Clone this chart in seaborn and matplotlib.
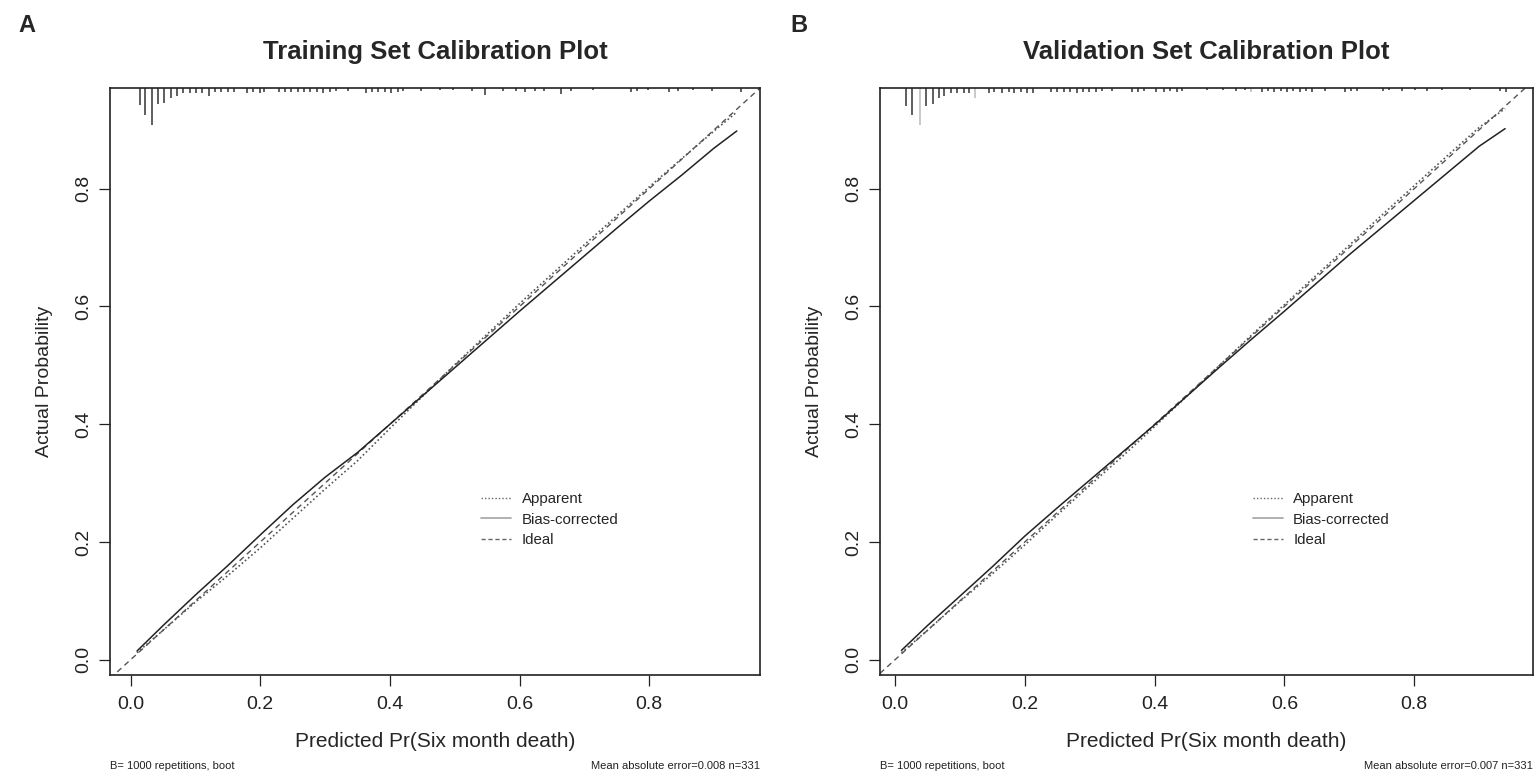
import numpy as np
import pandas as pd
import matplotlib
matplotlib.use("Agg")
import matplotlib.pyplot as plt
import seaborn as sns
from matplotlib.lines import Line2D

# ── Data ──────────────────────────────────────────────────
pred_a = [0.01, 0.05, 0.10, 0.15, 0.20, 0.25, 0.30, 0.35, 0.40, 0.45,
          0.50, 0.55, 0.60, 0.65, 0.70, 0.75, 0.80, 0.85, 0.90, 0.935]
apparent_a = [0.012, 0.050, 0.098, 0.143, 0.190, 0.240, 0.290, 0.338, 0.393, 0.447,
              0.501, 0.553, 0.605, 0.655, 0.705, 0.754, 0.803, 0.851, 0.898, 0.930]
bias_a = [0.015, 0.058, 0.110, 0.160, 0.212, 0.263, 0.310, 0.352, 0.400, 0.448,
          0.496, 0.544, 0.592, 0.639, 0.686, 0.733, 0.779, 0.823, 0.869, 0.898]

pred_b = [0.01, 0.05, 0.10, 0.15, 0.20, 0.25, 0.30, 0.35, 0.40, 0.45,
          0.50, 0.55, 0.60, 0.65, 0.70, 0.75, 0.80, 0.85, 0.90, 0.94]
apparent_b = [0.012, 0.050, 0.099, 0.146, 0.195, 0.246, 0.296, 0.345, 0.396, 0.448,
              0.500, 0.552, 0.603, 0.654, 0.704, 0.755, 0.805, 0.855, 0.904, 0.936]
bias_b = [0.016, 0.058, 0.108, 0.158, 0.210, 0.258, 0.305, 0.352, 0.399, 0.448,
          0.497, 0.545, 0.592, 0.640, 0.688, 0.734, 0.780, 0.826, 0.872, 0.902]

# rug of predicted probabilities (position, tick length in prob. units)
rug_x_a = [0.014, 0.023, 0.033, 0.043, 0.052, 0.063, 0.071, 0.081, 0.091, 0.101,
           0.110, 0.121, 0.130, 0.140, 0.150, 0.160, 0.179, 0.189, 0.199, 0.206,
           0.229, 0.238, 0.248, 0.258, 0.268, 0.277, 0.287, 0.297, 0.307, 0.317,
           0.336, 0.363, 0.372, 0.382, 0.392, 0.402, 0.412, 0.420, 0.448, 0.477,
           0.497, 0.526, 0.546, 0.575, 0.595, 0.608, 0.624, 0.637, 0.664, 0.680,
           0.713, 0.772, 0.781, 0.798, 0.831, 0.844, 0.867, 0.896, 0.942]
rug_h_a = [0.029, 0.046, 0.063, 0.027, 0.026, 0.017, 0.014, 0.009, 0.008, 0.008,
           0.008, 0.014, 0.006, 0.007, 0.006, 0.006, 0.008, 0.007, 0.008, 0.006,
           0.007, 0.006, 0.007, 0.006, 0.007, 0.007, 0.006, 0.008, 0.007, 0.005,
           0.005, 0.008, 0.006, 0.007, 0.006, 0.008, 0.006, 0.005, 0.005, 0.004,
           0.004, 0.005, 0.012, 0.005, 0.005, 0.006, 0.005, 0.005, 0.011, 0.005,
           0.004, 0.006, 0.005, 0.004, 0.006, 0.005, 0.004, 0.005, 0.006]

rug_x_b = [0.017, 0.027, 0.038, 0.048, 0.058, 0.068, 0.076, 0.086, 0.096, 0.106,
           0.114, 0.123, 0.145, 0.153, 0.165, 0.175, 0.184, 0.194, 0.204, 0.212,
           0.240, 0.250, 0.260, 0.270, 0.280, 0.289, 0.299, 0.309, 0.319, 0.335,
           0.365, 0.375, 0.384, 0.402, 0.414, 0.424, 0.434, 0.443, 0.480, 0.506,
           0.525, 0.539, 0.548, 0.565, 0.575, 0.584, 0.594, 0.604, 0.614, 0.624,
           0.634, 0.643, 0.663, 0.693, 0.702, 0.712, 0.752, 0.761, 0.781, 0.801,
           0.820, 0.843, 0.886, 0.932, 0.942]
rug_h_b = [0.030, 0.046, 0.063, 0.030, 0.027, 0.017, 0.013, 0.009, 0.008, 0.009,
           0.008, 0.017, 0.008, 0.006, 0.008, 0.007, 0.008, 0.007, 0.008, 0.008,
           0.007, 0.006, 0.007, 0.006, 0.008, 0.007, 0.007, 0.006, 0.005, 0.005,
           0.006, 0.007, 0.005, 0.006, 0.006, 0.005, 0.006, 0.005, 0.004, 0.004,
           0.005, 0.004, 0.006, 0.006, 0.005, 0.006, 0.005, 0.006, 0.005, 0.006,
           0.005, 0.006, 0.005, 0.006, 0.005, 0.005, 0.005, 0.004, 0.005, 0.004,
           0.005, 0.004, 0.004, 0.005, 0.006]
rug_grey_b = [0.038, 0.123, 0.548]

ticks = [0.0, 0.2, 0.4, 0.6, 0.8]
tick_labels = ["0.0", "0.2", "0.4", "0.6", "0.8"]
titles = ["Training Set Calibration Plot", "Validation Set Calibration Plot"]
panel_tags = ["A", "B"]
mae_text = ["Mean absolute error=0.008 n=331", "Mean absolute error=0.007 n=331"]
boot_text = "B= 1000 repetitions, boot"

# ── Style ─────────────────────────────────────────────────
sns.set_style("ticks")
FONT = ["Liberation Sans", "DejaVu Sans"]
plt.rcParams["font.family"] = FONT
DARK = "#333333"


def draw_panel(ax, pred, apparent, bias, rug_x, rug_h, xlim, rug_grey=()):
    ylim = (-0.026, 0.971)
    ax.set_xlim(xlim)
    ax.set_ylim(ylim)

    ideal = pd.DataFrame({"x": list(xlim), "y": list(xlim)})
    sns.lineplot(data=ideal, x="x", y="y", ax=ax, color="#555555",
                 linestyle=(0, (4, 3)), linewidth=1.0)
    sns.lineplot(x=pred, y=apparent, ax=ax, color="#555555",
                 linestyle=(0, (1, 1.5)), linewidth=1.2)
    sns.lineplot(x=pred, y=bias, ax=ax, color="#222222", linewidth=1.1)

    top = ylim[1]
    rug_col = ["#bbbbbb" if x in rug_grey else DARK for x in rug_x]
    ax.vlines(rug_x, [top - h for h in rug_h], top, colors=rug_col,
              linewidth=1.1)

    ax.set_xticks(ticks)
    ax.set_xticklabels(tick_labels)
    ax.set_yticks(ticks)
    ax.set_yticklabels(tick_labels, rotation=90, va="center")
    ax.tick_params(axis="both", direction="out", length=8, width=0.9,
                   colors="#222222", labelsize=14, pad=5,
                   bottom=True, left=True, top=False, right=False)
    ax.tick_params(axis="x", pad=7)
    for s in ax.spines.values():
        s.set_visible(True)
        s.set_color("#222222")
        s.set_linewidth(1.2)

    ax.set_xlabel("Predicted Pr(Six month death)", fontsize=15, labelpad=14)
    ax.set_ylabel("Actual Probability", fontsize=14, labelpad=16)

    handles = [
        Line2D([], [], color="#666666", linestyle=(0, (1, 1.5)), linewidth=1.0),
        Line2D([], [], color="#aaaaaa", linewidth=1.3),
        Line2D([], [], color="#666666", linestyle=(0, (3, 2)), linewidth=1.0),
    ]
    ax.legend(handles, ["Apparent", "Bias-corrected", "Ideal"],
              loc="center left", bbox_to_anchor=(0.55, 0.265), frameon=False,
              fontsize=10.8, handlelength=2.0, handletextpad=0.7,
              labelspacing=0.45)


fig = plt.figure(figsize=(15.35, 7.76), dpi=100)
ax_a = fig.add_axes([0.0717, 0.130, 0.4235, 0.7566])
ax_b = fig.add_axes([0.5733, 0.130, 0.4254, 0.7566])

draw_panel(ax_a, pred_a, apparent_a, bias_a, rug_x_a, rug_h_a, (-0.0316, 0.971))
draw_panel(ax_b, pred_b, apparent_b, bias_b, rug_x_b, rug_h_b, (-0.023, 0.983),
           rug_grey=rug_grey_b)

for ax, title, tag, mae in zip([ax_a, ax_b], titles, panel_tags, mae_text):
    ax.set_title(title, fontsize=18.5, fontweight="bold", pad=21)
    ax.text(0.0, -0.155, boot_text, transform=ax.transAxes, fontsize=8,
            ha="left", va="center", color="#222222")
    ax.text(1.0, -0.155, mae, transform=ax.transAxes, fontsize=8,
            ha="right", va="center", color="#222222")

fig.text(18 / 1535, 1 - 25 / 776, "A", fontsize=17, fontweight="bold",
         ha="left", va="center")
fig.text(790 / 1535, 1 - 25 / 776, "B", fontsize=17, fontweight="bold",
         ha="left", va="center")

fig.savefig("out.png", dpi=100)
plt.close(fig)
